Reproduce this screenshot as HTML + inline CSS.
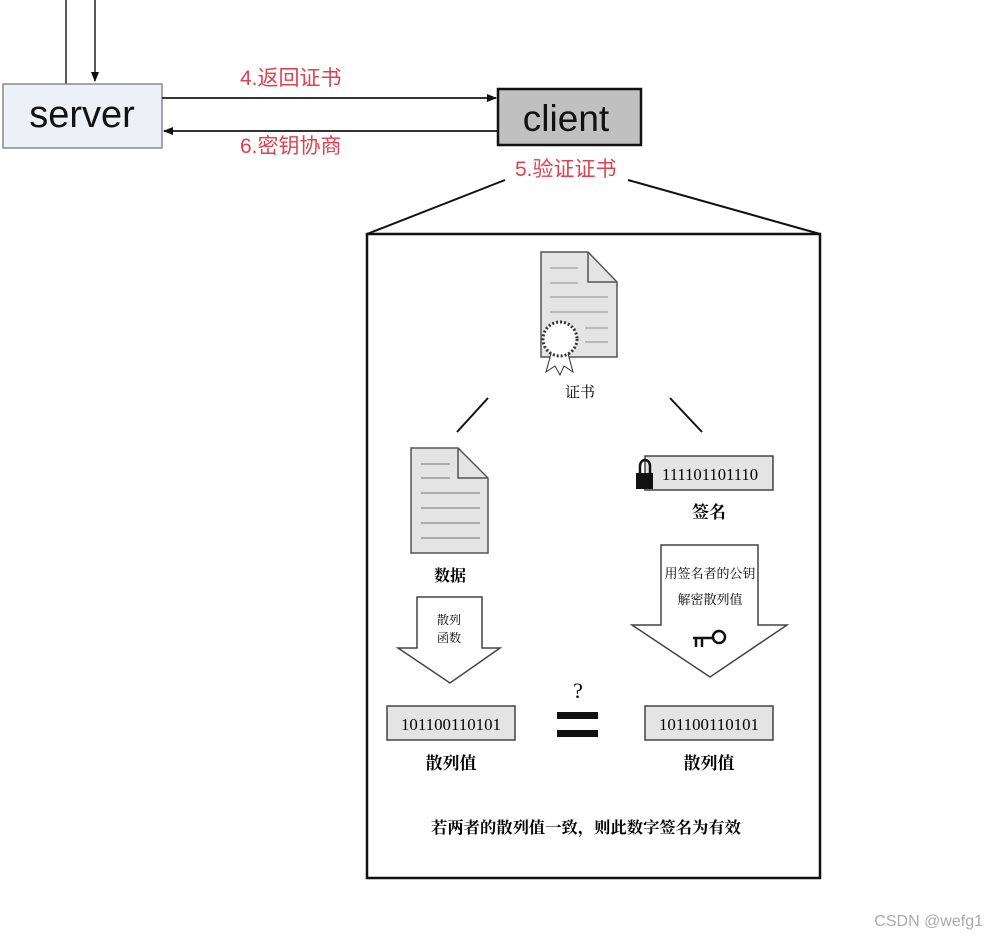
<!DOCTYPE html>
<html><head><meta charset="utf-8"><style>
html,body{margin:0;padding:0;background:#fff;}
svg{display:block;}
.cn{font-family:"Liberation Serif","Noto Serif CJK SC",serif;}
.rd{font-family:"Liberation Sans","Noto Sans CJK SC",sans-serif;fill:#e0404f;font-size:21px;}
</style></head><body>
<svg width="986" height="938" viewBox="0 0 986 938" xmlns="http://www.w3.org/2000/svg">
<defs>
<marker id="ah" markerWidth="10" markerHeight="10" refX="9" refY="5" orient="auto" markerUnits="userSpaceOnUse"><path d="M0,1 L10,5 L0,9 Z" fill="#111"/></marker>
</defs>
<line x1="66" y1="0" x2="66" y2="84" stroke="#222" stroke-width="1.5"/>
<line x1="95" y1="0" x2="95" y2="81" stroke="#222" stroke-width="1.5" marker-end="url(#ah)"/>
<rect x="3" y="84" width="159" height="64" fill="#eef0f8" stroke="#888" stroke-width="1.5"/>
<text x="82" y="127" text-anchor="middle" font-family="Liberation Sans,sans-serif" font-size="38" fill="#111">server</text>
<line x1="162" y1="98" x2="496" y2="98" stroke="#333" stroke-width="2" marker-end="url(#ah)"/>
<line x1="497" y1="131" x2="164" y2="131" stroke="#333" stroke-width="2" marker-end="url(#ah)"/>
<text x="240" y="85" class="rd">4.返回证书</text>
<text x="240" y="153" class="rd">6.密钥协商</text>
<rect x="498" y="89" width="143" height="56" fill="#c0c0c0" stroke="#111" stroke-width="2.5"/>
<text x="566" y="131" text-anchor="middle" font-family="Liberation Sans,sans-serif" font-size="37" fill="#111">client</text>
<text x="515" y="176" class="rd">5.验证证书</text>
<line x1="505" y1="180" x2="367" y2="234" stroke="#111" stroke-width="2"/>
<line x1="628" y1="180" x2="820" y2="234" stroke="#111" stroke-width="2"/>
<rect x="367" y="234" width="453" height="644" fill="#fff" stroke="#111" stroke-width="2.5"/>
<path d="M541,252 L588,252 L617,282 L617,357 L541,357 Z" fill="#e4e4e4" stroke="#555" stroke-width="1.5"/>
<path d="M588,252 L588,282 L617,282" fill="none" stroke="#555" stroke-width="1.5"/>
<g stroke="#aaa" stroke-width="1.5">
<line x1="550" y1="268" x2="578" y2="268"/><line x1="550" y1="283" x2="578" y2="283"/>
<line x1="550" y1="297" x2="608" y2="297"/><line x1="550" y1="312" x2="608" y2="312"/>
<line x1="585" y1="328" x2="608" y2="328"/><line x1="585" y1="342" x2="608" y2="342"/>
</g>
<path d="M552,350 L546,372 L555,366 L560,375 L564,366 L573,372 L567,350 Z" fill="#fff" stroke="#333" stroke-width="1"/>
<circle cx="560" cy="339" r="17" fill="#fff" stroke="#333" stroke-width="3" stroke-dasharray="2 2"/>
<circle cx="560" cy="339" r="15" fill="#fff"/>
<text x="580" y="397" text-anchor="middle" class="cn" font-size="15">证书</text>
<line x1="457" y1="432" x2="488" y2="398" stroke="#111" stroke-width="2"/>
<line x1="670" y1="398" x2="702" y2="432" stroke="#111" stroke-width="2"/>
<path d="M411,448 L458,448 L488,478 L488,553 L411,553 Z" fill="#e4e4e4" stroke="#555" stroke-width="1.5"/>
<path d="M458,448 L458,478 L488,478" fill="none" stroke="#555" stroke-width="1.5"/>
<g stroke="#999" stroke-width="1.5">
<line x1="421" y1="464" x2="450" y2="464"/><line x1="421" y1="478" x2="450" y2="478"/>
<line x1="421" y1="493" x2="480" y2="493"/><line x1="421" y1="508" x2="480" y2="508"/>
<line x1="421" y1="523" x2="480" y2="523"/><line x1="421" y1="538" x2="480" y2="538"/>
</g>
<text x="450" y="581" text-anchor="middle" class="cn" font-size="16" font-weight="bold">数据</text>
<rect x="645" y="456" width="128" height="34" fill="#e4e4e4" stroke="#444" stroke-width="1.5"/>
<path d="M640,474 L640,466 A5,6 0 0 1 650,466 L650,474" fill="none" stroke="#111" stroke-width="2.5"/>
<rect x="636" y="473" width="17" height="16" fill="#111"/>
<text x="710" y="480" text-anchor="middle" class="cn" font-size="17" textLength="96" lengthAdjust="spacingAndGlyphs">111101101110</text>
<text x="709" y="518" text-anchor="middle" class="cn" font-size="17" font-weight="bold">签名</text>
<path d="M417,597 L482,597 L482,648 L500,648 L450,683 L398,648 L417,648 Z" fill="#fff" stroke="#444" stroke-width="1.5"/>
<text x="449" y="624" text-anchor="middle" class="cn" font-size="12">散列</text>
<text x="449" y="642" text-anchor="middle" class="cn" font-size="12">函数</text>
<path d="M661,545 L758,545 L758,625 L787,625 L710,677 L632,625 L661,625 Z" fill="#fff" stroke="#444" stroke-width="1.5"/>
<text x="710" y="578" text-anchor="middle" class="cn" font-size="13">用签名者的公钥</text>
<text x="710" y="604" text-anchor="middle" class="cn" font-size="13">解密散列值</text>
<circle cx="719" cy="637" r="6" fill="none" stroke="#111" stroke-width="2.5"/>
<path d="M693,638 L713,638 M696,638 L696,647 M702,638 L702,647" stroke="#111" stroke-width="2.5" fill="none"/>
<rect x="387" y="706" width="128" height="34" fill="#e4e4e4" stroke="#444" stroke-width="1.5"/>
<text x="451" y="730" text-anchor="middle" class="cn" font-size="17" textLength="100" lengthAdjust="spacingAndGlyphs">101100110101</text>
<rect x="645" y="706" width="128" height="34" fill="#e4e4e4" stroke="#444" stroke-width="1.5"/>
<text x="709" y="730" text-anchor="middle" class="cn" font-size="17" textLength="100" lengthAdjust="spacingAndGlyphs">101100110101</text>
<rect x="557" y="712" width="41" height="7" fill="#111"/>
<rect x="557" y="730" width="41" height="7" fill="#111"/>
<text x="578" y="698" text-anchor="middle" class="cn" font-size="22">?</text>
<text x="451" y="769" text-anchor="middle" class="cn" font-size="17" font-weight="bold">散列值</text>
<text x="709" y="769" text-anchor="middle" class="cn" font-size="17" font-weight="bold">散列值</text>
<text x="586" y="833" text-anchor="middle" class="cn" font-size="16" font-weight="bold" textLength="310" lengthAdjust="spacingAndGlyphs">若两者的散列值一致，则此数字签名为有效</text>
<text x="983" y="926" text-anchor="end" font-family="Liberation Sans,sans-serif" font-size="16" fill="#aaa">CSDN @wefg1</text>
</svg>
</body></html>
